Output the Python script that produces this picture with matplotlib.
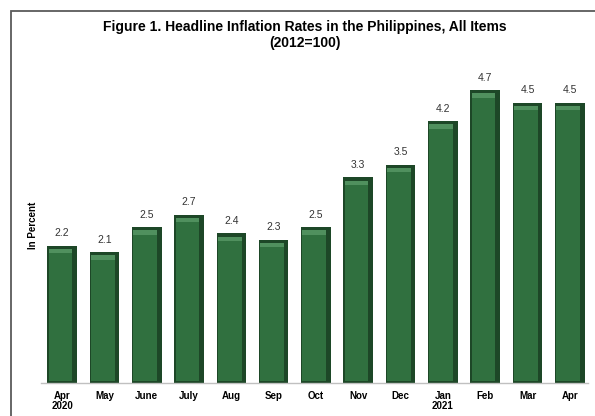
import matplotlib.pyplot as plt
from matplotlib.patches import Rectangle
import numpy as np

months = ["Apr\n2020", "May", "June", "July", "Aug", "Sep", "Oct",
          "Nov", "Dec", "Jan\n2021", "Feb", "Mar", "Apr"]
rates = [2.2, 2.1, 2.5, 2.7, 2.4, 2.3, 2.5, 3.3, 3.5, 4.2, 4.7, 4.5, 4.5]

plt.rcParams['font.family'] = ['Liberation Sans Narrow', 'Liberation Sans', 'DejaVu Sans']
wide = ['Liberation Sans', 'DejaVu Sans']

fig = plt.figure(figsize=(5.95, 4.16), dpi=100)
fig.patch.set_facecolor('white')

# outer frame (runs off the right and bottom edges)
fig.patches.append(Rectangle((11/595, -0.05), 1.0, 1 - 11/416 + 0.05,
                             transform=fig.transFigure, fill=False,
                             edgecolor='#5a5a5a', linewidth=1.3))

ax = fig.add_axes([41/595, 33/416, (588-41)/595, 5.0*62.3/416])
x = np.arange(len(rates))
v = np.array(rates)
w = 0.7

# bevelled bars: dark outer shell, medium body, light top cap
ax.bar(x, v, w, color='#1d4727', zorder=2)
ax.bar(x - 0.04, v - 0.10, w * 0.8, bottom=0.04, color='#30703f', zorder=3)
ax.bar(x - 0.04, 0.07, w * 0.8, bottom=v - 0.12, color='#50905e', zorder=4)

for xi, vi in zip(x, v):
    ax.text(xi, vi + 0.12, f"{vi:.1f}", ha='center', va='bottom',
            fontsize=7.5, color='#333333', family=wide)

ax.set_xlim(-0.5, 12.43)
ax.set_ylim(0, 5.0)
ax.set_yticks([])
ax.set_xticks(x)
ax.set_xticklabels(months, fontsize=7, fontweight='bold', linespacing=0.95,
                   family=wide)
ax.tick_params(axis='x', length=0, pad=6)
for s in ['top', 'right', 'left']:
    ax.spines[s].set_visible(False)
ax.spines['bottom'].set_color('#c0c0c0')
ax.spines['bottom'].set_linewidth(1.0)

ax.set_ylabel("In Percent", fontsize=7, fontweight='bold', family=wide)
ax.yaxis.set_label_coords(-(41 - 38) / (588 - 41), (383 - 225) / (5.0 * 62.3))

fig.text(0.513, 1 - 27/416, "Figure 1. Headline Inflation Rates in the Philippines, All Items",
         ha='center', va='center', fontsize=10, fontweight='bold')
fig.text(0.513, 1 - 43/416, "(2012=100)", ha='center', va='center',
         fontsize=10, fontweight='bold')

fig.savefig("out.png", dpi=100)
